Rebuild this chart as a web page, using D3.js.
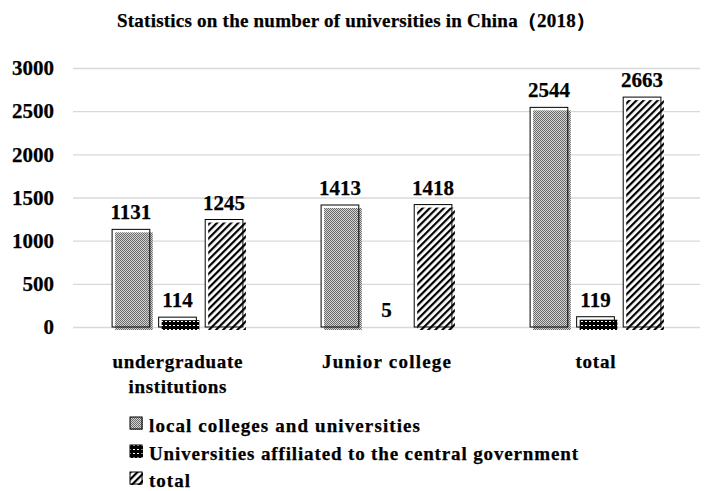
<!DOCTYPE html>
<html>
<head>
<meta charset="utf-8">
<script src="https://cdn.jsdelivr.net/npm/d3@7/dist/d3.min.js"></script>
<style>
  html, body { margin: 0; padding: 0; background: #fff; }
  svg { display: block; }
  text { font-family: "Liberation Serif", "Times New Roman", serif; font-weight: bold; fill: #000; stroke: #000; stroke-width: 0.25px; }
</style>
</head>
<body>
<svg id="chart" width="705" height="491"></svg>
<script>
// ---- data ----
const titleText = "Statistics on the number of universities in China（2018）";
const categories = ["undergraduate institutions", "Junior college", "total"];
const categoryLines = [["undergraduate", "institutions"], ["Junior college"], ["total"]];
const seriesNames = ["local colleges and universities", "Universities affiliated to the central government", "total"];
const localValues = [1131, 1413, 2544];
const centralValues = [114, 5, 119];
const totalValues = [1245, 1418, 2663];
const yTicks = [0, 500, 1000, 1500, 2000, 2500, 3000];

const seriesValues = [localValues, centralValues, totalValues];
const patternIds = ["pLocal", "pCentral", "pTotal"];

const svg = d3.select("#chart");
const plotLeft = 73, plotRight = 700, plotTop = 68, plotBottom = 327;

// ---- patterns ----
const defs = svg.append("defs");
const pl = defs.append("pattern").attr("id", "pLocal").attr("patternUnits", "userSpaceOnUse")
  .attr("width", 2).attr("height", 2);
pl.append("rect").attr("width", 2).attr("height", 2).attr("fill", "#d4d4d4");
pl.append("rect").attr("x", 0).attr("y", 0).attr("width", 1).attr("height", 1).attr("fill", "#6a6a6a");
pl.append("rect").attr("x", 1).attr("y", 1).attr("width", 1).attr("height", 1).attr("fill", "#6a6a6a");

const pc = defs.append("pattern").attr("id", "pCentral").attr("patternUnits", "userSpaceOnUse")
  .attr("width", 4).attr("height", 4);
pc.append("rect").attr("width", 4).attr("height", 4).attr("fill", "#000");
pc.append("rect").attr("x", 1).attr("y", 1).attr("width", 2).attr("height", 1).attr("fill", "#fff");

const pt = defs.append("pattern").attr("id", "pTotal").attr("patternUnits", "userSpaceOnUse")
  .attr("width", 5).attr("height", 5).attr("patternTransform", "rotate(45)");
pt.append("rect").attr("width", 5).attr("height", 5).attr("fill", "#fff");
pt.append("rect").attr("x", 0).attr("y", 0).attr("width", 2.2).attr("height", 5).attr("fill", "#000");

// ---- scales ----
const x0 = d3.scaleBand().domain(categories).range([plotLeft, plotRight]).paddingInner(0).paddingOuter(0);
const x1 = d3.scaleBand().domain(seriesNames).range([0, x0.bandwidth()]).paddingInner(0.19).paddingOuter(0.84);
const y = d3.scaleLinear().domain([0, 3000]).range([plotBottom, plotTop]);

// ---- title ----
svg.append("text").attr("x", 356).attr("y", 27).attr("text-anchor", "middle")
  .style("font-size", "19px").attr("textLength", 478).attr("lengthAdjust", "spacing")
  .text(titleText);

// ---- grid / y axis ----
const yAxis = d3.axisLeft(y).tickValues(yTicks).tickSize(-(plotRight - plotLeft)).tickPadding(19).tickFormat(d3.format("d"));
const gy = svg.append("g").attr("transform", `translate(${plotLeft},0)`).call(yAxis);
gy.select(".domain").remove();
gy.selectAll(".tick line").attr("stroke", "#d9d9d9").attr("stroke-width", 1.3);
gy.selectAll(".tick text").style("font-size", "21px").style("font-family", "'Liberation Serif', serif")
  .style("font-weight", "bold").attr("fill", "#000");

// ---- bars ----
seriesNames.forEach((s, si) => {
  const bw = x1.bandwidth();
  const data = categories.map((c, ci) => ({ c, v: seriesValues[si][ci] }))
  const bars = data.filter(d => y(0) - y(d.v) >= 1);
  const g = svg.append("g");
  g.selectAll("rect.bg").data(bars).join("rect").attr("class", "bg")
    .attr("x", d => x0(d.c) + x1(s)).attr("y", d => y(d.v))
    .attr("width", bw).attr("height", d => y(0) - y(d.v)).attr("fill", "#fff");
  g.selectAll("rect.pat").data(bars).join("rect").attr("class", "pat")
    .attr("x", d => x0(d.c) + x1(s) + 3).attr("y", d => y(d.v) + 3)
    .attr("width", bw).attr("height", d => y(0) - y(d.v)).attr("fill", `url(#${patternIds[si]})`);
  g.selectAll("rect.out").data(bars).join("rect").attr("class", "out")
    .attr("x", d => x0(d.c) + x1(s)).attr("y", d => y(d.v))
    .attr("width", bw).attr("height", d => y(0) - y(d.v))
    .attr("fill", "none").attr("stroke", "#000").attr("stroke-width", 1);
  g.selectAll("text").data(data).join("text")
    .attr("x", d => x0(d.c) + x1(s) + bw / 2).attr("y", d => y(d.v) - 10)
    .attr("text-anchor", "middle").style("font-size", "21px")
    .text(d => d.v);
});

// ---- category labels ----
const catWidths = [[130, 98], [129], [40]];
categories.forEach((c, ci) => {
  const cx = x0(c) + x0.bandwidth() / 2;
  categoryLines[ci].forEach((line, li) => {
    svg.append("text").attr("x", cx).attr("y", 368 + li * 25).attr("text-anchor", "middle")
      .style("font-size", "19px").attr("textLength", catWidths[ci][li]).attr("lengthAdjust", "spacing")
      .text(line);
  });
});

// ---- legend ----
const legWidths = [271, 429, 41];
const legY = [432, 460, 487];
seriesNames.forEach((s, si) => {
  const by = legY[si] - 15;
  svg.append("rect").attr("x", 130).attr("y", by).attr("width", 13).attr("height", 13)
    .attr("fill", `url(#${patternIds[si]})`);
  svg.append("rect").attr("x", 130).attr("y", by).attr("width", 12).attr("height", 12)
    .attr("fill", "none").attr("stroke", "#000").attr("stroke-width", 1);
  svg.append("text").attr("x", 149).attr("y", legY[si]).style("font-size", "19px")
    .attr("textLength", legWidths[si]).attr("lengthAdjust", "spacing").text(s);
});
</script>
</body>
</html>
